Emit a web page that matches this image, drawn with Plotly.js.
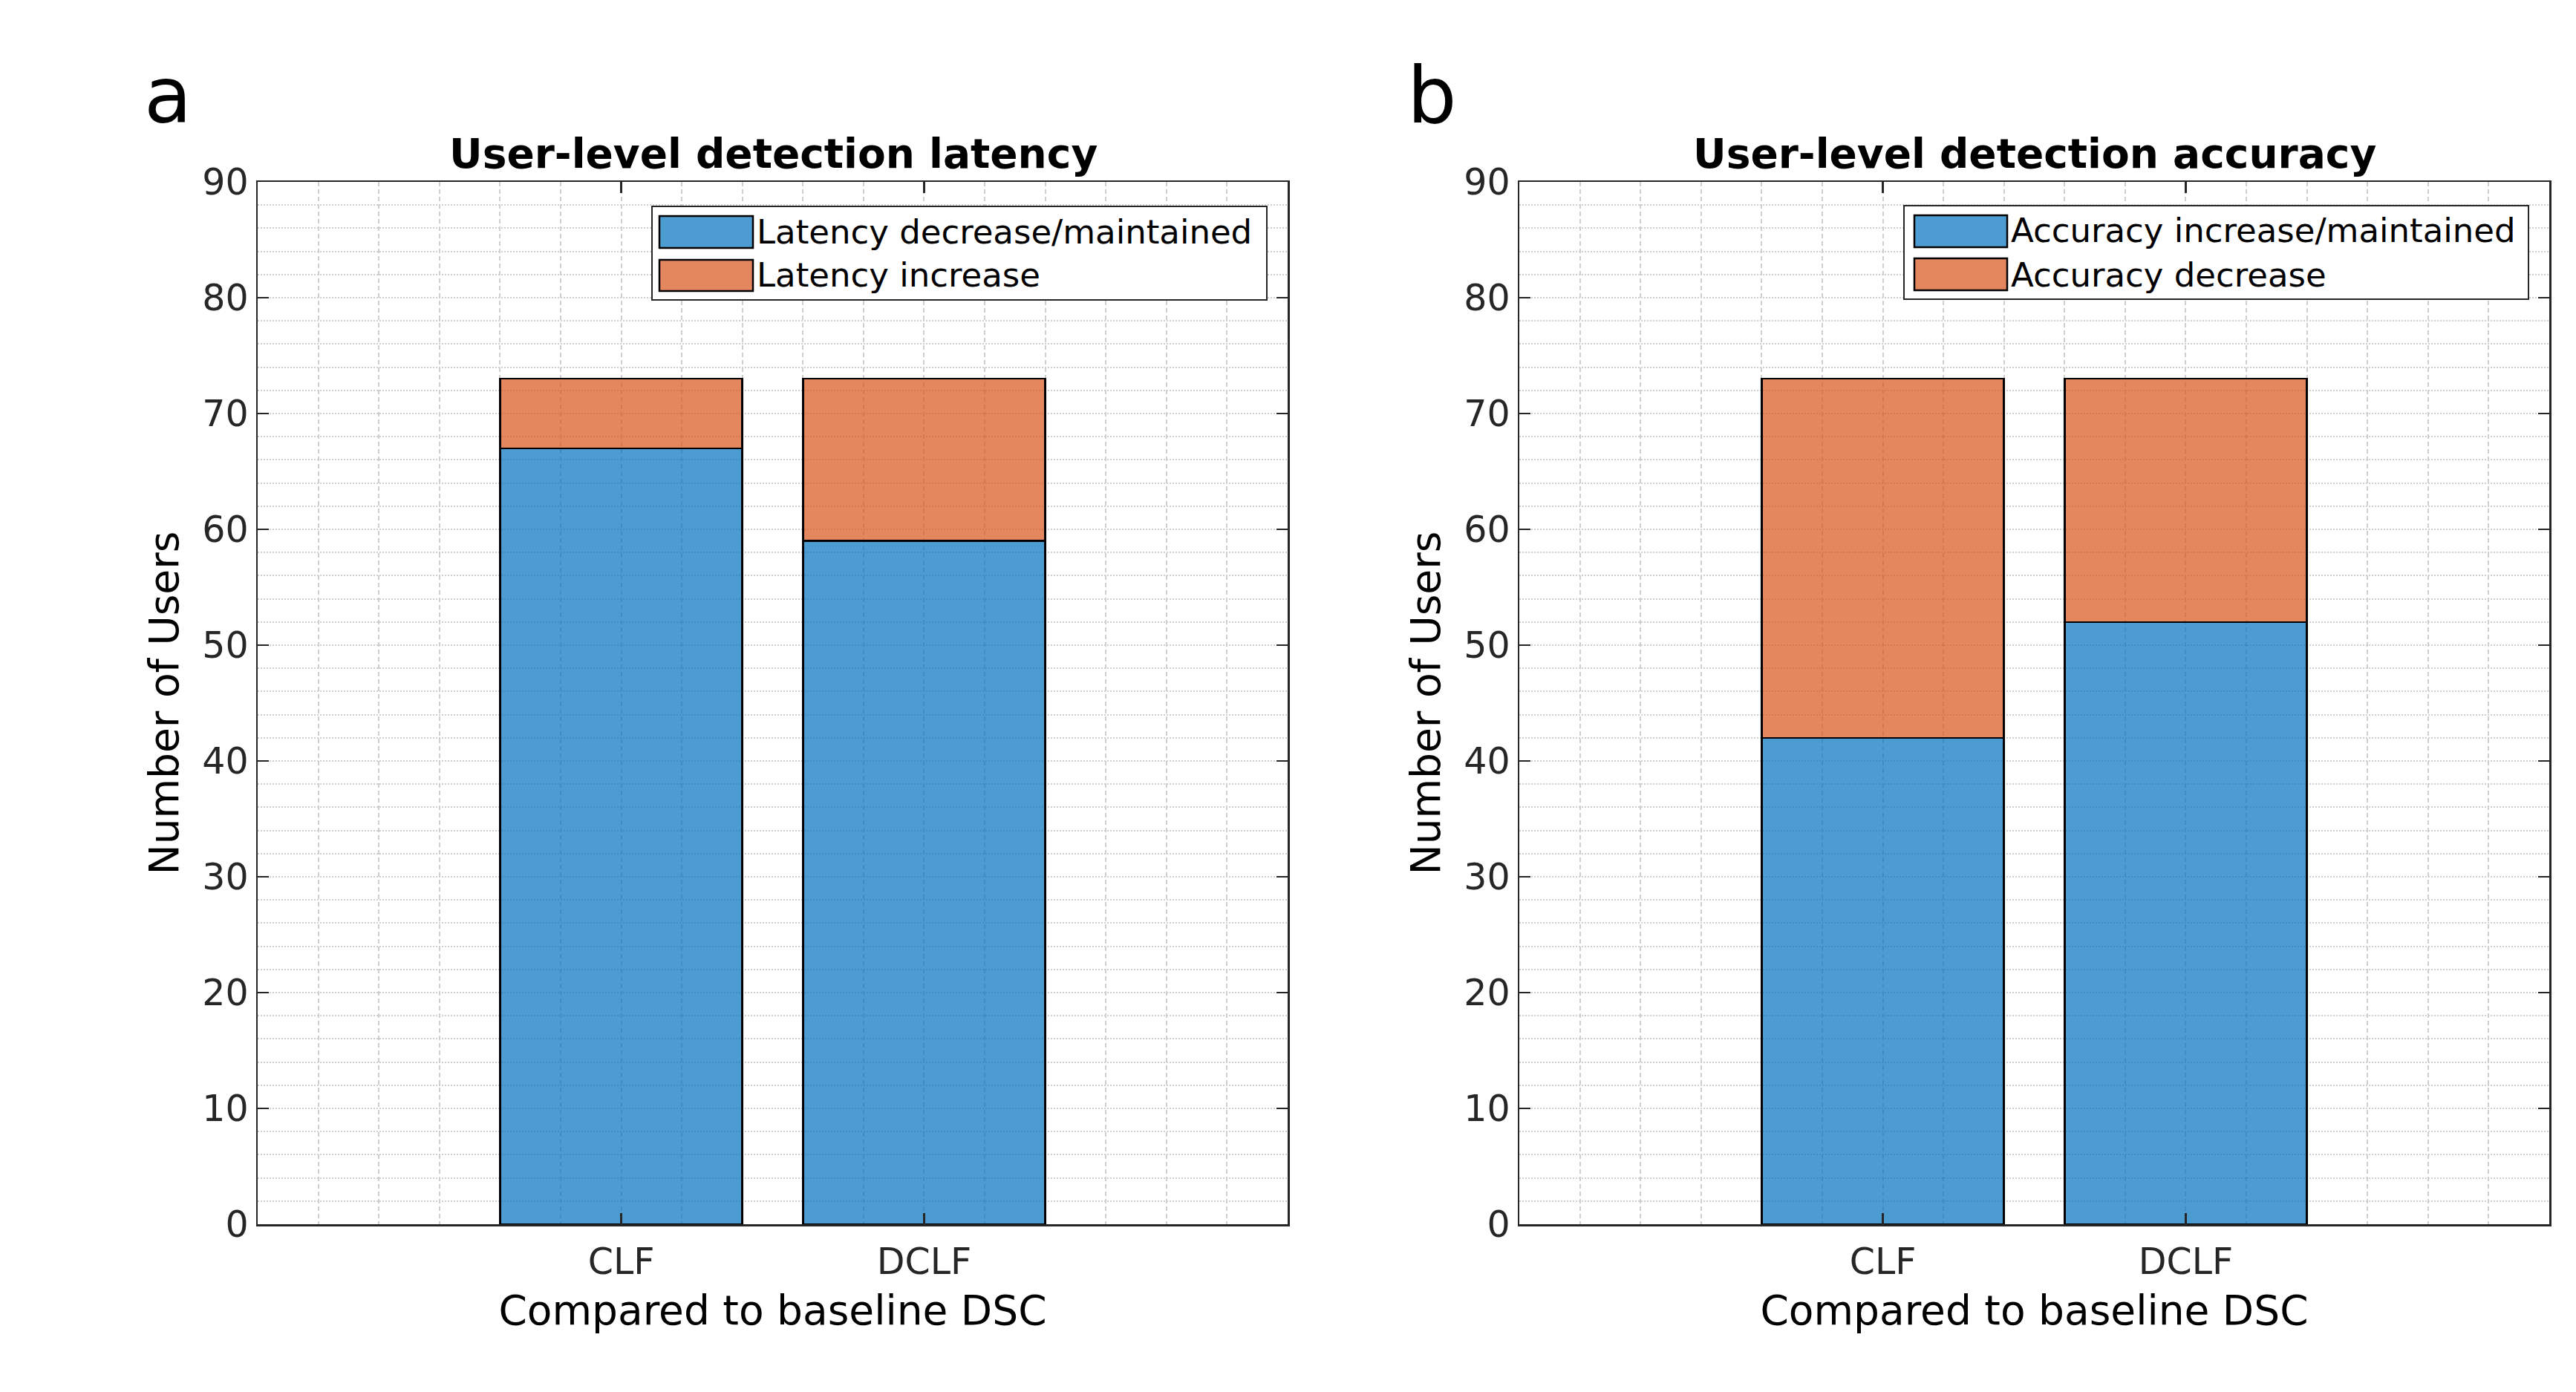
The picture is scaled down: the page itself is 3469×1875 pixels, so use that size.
<!DOCTYPE html>
<html>
<head>
<meta charset="utf-8">
<script src="https://cdn.plot.ly/plotly-3.0.1.min.js"></script>
<style>html,body{margin:0;padding:0;background:#fff;}#chart{width:3469px;height:1875px;}</style>
</head>
<body>
<div id="chart"></div>
<script>
// ---- data ----
const categories = ['CLF', 'DCLF'];
const categoryPos = [1, 2];
const latencyDecrease = [67, 59];
const latencyIncrease = [6, 14];
const accuracyIncrease = [42, 52];
const accuracyDecrease = [31, 21];
const yTicks = [0, 10, 20, 30, 40, 50, 60, 70, 80, 90];

// ---- styling ----
const W = 3469, H = 1875;
const px = x => x / W;
const py = y => 1 - y / H;
const BLUE = 'rgba(0,114,189,0.7)';
const ORANGE = 'rgba(217,83,25,0.7)';
const FONT = 'DejaVu Sans';
const AX = '#262626';
const GRID = '#cfcfcf';

function bar(x, y, color, name, xa, ya) {
  return {
    type: 'bar', x: x, y: y, name: name, width: 0.8,
    marker: {color: color, line: {color: '#000', width: 2.5}},
    xaxis: xa, yaxis: ya, showlegend: false, hoverinfo: 'skip'
  };
}

const data = [
  bar(categoryPos, latencyDecrease, BLUE, 'Latency decrease/maintained', 'x', 'y'),
  bar(categoryPos, latencyIncrease, ORANGE, 'Latency increase', 'x', 'y'),
  bar(categoryPos, accuracyIncrease, BLUE, 'Accuracy increase/maintained', 'x2', 'y2'),
  bar(categoryPos, accuracyDecrease, ORANGE, 'Accuracy decrease', 'x2', 'y2')
];

function xaxis(domain, anchor) {
  return {
    domain: domain, anchor: anchor, range: [-0.2, 3.2],
    tickmode: 'array', tickvals: categoryPos, ticktext: categories,
    showline: true, linecolor: AX, linewidth: 2.5, mirror: 'ticks',
    ticks: 'inside', ticklen: 15, tickwidth: 2.5, tickcolor: AX,
    ticklabelstandoff: 6,
    showgrid: true, gridcolor: GRID, gridwidth: 2, griddash: '6px,4px',
    minor: {tickmode: 'linear', tick0: 0, dtick: 0.2, showgrid: true, gridcolor: GRID, gridwidth: 2, griddash: '6px,4px', ticks: ''},
    zeroline: false, automargin: false,
    tickfont: {family: FONT, size: 49, color: AX},
    title: {text: 'Compared to baseline DSC', font: {family: FONT, size: 55, color: '#000'}, standoff: 18}
  };
}
function yaxis(domain, anchor) {
  return {
    domain: domain, anchor: anchor, range: [0, 90],
    tickmode: 'array', tickvals: yTicks,
    showline: true, linecolor: AX, linewidth: 2.5, mirror: 'ticks',
    ticks: 'inside', ticklen: 15, tickwidth: 2.5, tickcolor: AX,
    showgrid: true, gridcolor: GRID, gridwidth: 2, griddash: '2px,2px',
    minor: {tickmode: 'linear', tick0: 0, dtick: 2, showgrid: true, gridcolor: GRID, gridwidth: 2, griddash: '2px,2px', ticks: ''},
    zeroline: false, automargin: false,
    tickfont: {family: FONT, size: 49, color: AX},
    title: {text: 'Number of Users', font: {family: FONT, size: 55, color: '#000'}, standoff: 14}
  };
}

const yDom = [py(1649), py(245)];

function legendShapes(box, sw1, sw2) {
  return [
    {type: 'rect', xref: 'paper', yref: 'paper', x0: px(box[0]), x1: px(box[1]), y0: py(box[3]), y1: py(box[2]),
     fillcolor: '#fff', line: {color: AX, width: 2}},
    {type: 'rect', xref: 'paper', yref: 'paper', x0: px(sw1[0]), x1: px(sw1[1]), y0: py(sw1[3]), y1: py(sw1[2]),
     fillcolor: BLUE, line: {color: '#000', width: 2.5}},
    {type: 'rect', xref: 'paper', yref: 'paper', x0: px(sw2[0]), x1: px(sw2[1]), y0: py(sw2[3]), y1: py(sw2[2]),
     fillcolor: ORANGE, line: {color: '#000', width: 2.5}}
  ];
}
function legendText(x, y, text) {
  return {xref: 'paper', yref: 'paper', x: px(x), y: py(y), xanchor: 'left', yanchor: 'middle',
          text: text, showarrow: false, font: {family: FONT, size: 45, color: '#000'}};
}

const shapes = [].concat(
  legendShapes([878, 1706, 278, 404], [888, 1014, 291, 334], [888, 1014, 350, 392]),
  legendShapes([2564, 3405, 277, 403], [2578, 2703, 290, 333], [2578, 2703, 348, 391])
);

const annotations = [
  {xref: 'paper', yref: 'paper', x: px(1041), y: py(241), xanchor: 'center', yanchor: 'bottom',
   text: '<b>User-level detection latency</b>', showarrow: false, font: {family: FONT, size: 55, color: '#000'}},
  {xref: 'paper', yref: 'paper', x: px(2740), y: py(241), xanchor: 'center', yanchor: 'bottom',
   text: '<b>User-level detection accuracy</b>', showarrow: false, font: {family: FONT, size: 55, color: '#000'}},
  {xref: 'paper', yref: 'paper', x: px(192), y: py(192), xanchor: 'left', yanchor: 'bottom',
   text: 'a', showarrow: false, font: {family: FONT, size: 105, color: '#000'}},
  {xref: 'paper', yref: 'paper', x: px(1893), y: py(192), xanchor: 'left', yanchor: 'bottom',
   text: 'b', showarrow: false, font: {family: FONT, size: 105, color: '#000'}},
  legendText(1017, 312, 'Latency decrease/maintained'),
  legendText(1017, 371, 'Latency increase'),
  legendText(2706, 311, 'Accuracy increase/maintained'),
  legendText(2706, 370, 'Accuracy decrease')
];

const layout = {
  width: W, height: H,
  margin: {l: 0, r: 0, t: 0, b: 0},
  paper_bgcolor: '#fff', plot_bgcolor: '#fff',
  barmode: 'stack', bargap: 0,
  showlegend: false, hovermode: false,
  font: {family: FONT, color: AX},
  xaxis: xaxis([px(347), px(1734)], 'y'),
  yaxis: yaxis(yDom, 'x'),
  xaxis2: xaxis([px(2046), px(3433)], 'y2'),
  yaxis2: yaxis(yDom, 'x2'),
  shapes: shapes,
  annotations: annotations
};

Plotly.newPlot('chart', data, layout, {staticPlot: true, displayModeBar: false});
</script>
</body>
</html>
